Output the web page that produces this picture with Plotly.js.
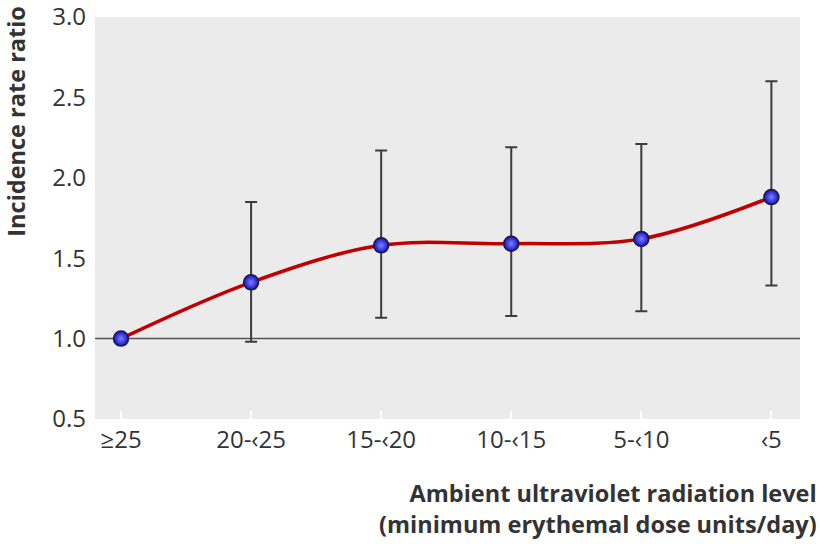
<!DOCTYPE html>
<html>
<head>
<meta charset="utf-8">
<script src="https://cdn.plot.ly/plotly-3.0.1.min.js"></script>
<style>html,body{margin:0;padding:0;background:#fff;}#chart{width:820px;height:544px;}</style>
</head>
<body>
<div id="chart"></div>
<script>
var categories = ["≥25", "20-‹25", "15-‹20", "10-‹15", "5-‹10", "‹5"];
var irr = [1.00, 1.35, 1.58, 1.59, 1.62, 1.88];
var ciUpper = [1.00, 1.85, 2.17, 2.19, 2.21, 2.60];
var ciLower = [1.00, 0.98, 1.13, 1.14, 1.17, 1.33];
var yTicks = [0.5, 1.0, 1.5, 2.0, 2.5, 3.0];
var yTickText = ["0.5", "1.0", "1.5", "2.0", "2.5", "3.0"];
var gridVals = [1.5, 2.0, 2.5];
var refValue = 1.0;

var xIdx = categories.map(function(c, i){ return i; });
var errPlus = irr.map(function(v, i){ return ciUpper[i] - v; });
var errMinus = irr.map(function(v, i){ return v - ciLower[i]; });

var font = "'Open Sans', 'Noto Sans', sans-serif";

var traces = [
  {
    x: xIdx, y: irr, type: 'scatter', mode: 'lines',
    line: {color: '#c00000', width: 3.5, shape: 'spline', smoothing: 1.0},
    hoverinfo: 'skip', showlegend: false
  },
  {
    x: xIdx.slice(1), y: irr.slice(1), type: 'scatter', mode: 'markers',
    marker: {size: 0.1, color: 'rgba(0,0,0,0)'},
    error_y: {type: 'data', symmetric: false, array: errPlus.slice(1), arrayminus: errMinus.slice(1),
              color: '#3c3c3c', thickness: 2, width: 6},
    showlegend: false
  },
  {
    x: xIdx, y: irr, type: 'scatter', mode: 'markers',
    marker: {size: 15, color: '#1010c8', gradient: {type: 'radial', color: '#8080ff'},
             line: {color: '#1a1a40', width: 1.5}},
    showlegend: false
  }
];

var layout = {
  width: 820, height: 544,
  margin: {l: 95, r: 20, t: 17, b: 125},
  paper_bgcolor: '#ffffff', plot_bgcolor: '#ebebeb',
  font: {family: font, color: '#333333'},
  xaxis: {
    range: [-0.2, 5.22], tickmode: 'array', tickvals: xIdx, ticktext: categories,
    showgrid: false, zeroline: false, showline: false,
    ticks: 'inside', ticklen: 8, tickwidth: 2, tickcolor: '#ffffff',
    ticklabelstandoff: 4,
    tickfont: {size: 24, color: '#333333', family: font}
  },
  yaxis: {
    range: [0.5, 3.0], tickmode: 'array', tickvals: yTicks, ticktext: yTickText,
    showgrid: false, zeroline: false, showline: false,
    ticks: '', ticklabelstandoff: 8, ticklabeloverflow: 'allow',
    tickfont: {size: 24, color: '#333333', family: font}
  },
  yaxis2: {
    overlaying: 'y', range: [0.5, 3.0], tickmode: 'array', tickvals: gridVals,
    showgrid: true, gridcolor: '#ffffff', gridwidth: 2.5, zeroline: false, showline: false,
    showticklabels: false, ticks: ''
  },
  shapes: [
    {type: 'line', xref: 'paper', x0: 0, x1: 1, yref: 'y', y0: refValue, y1: refValue,
     line: {color: '#555555', width: 1.5}, layer: 'below'}
  ],
  annotations: [
    {text: '<b>Incidence rate ratio</b>', xref: 'paper', yref: 'paper', x: -0.112, y: 1.032,
     xanchor: 'center', yanchor: 'top', textangle: -90, showarrow: false,
     font: {size: 23.5, color: '#333333', family: font}},
    {text: '<b>Ambient ultraviolet radiation level</b><br><b>(minimum erythemal dose units/day)</b>',
     xref: 'paper', yref: 'paper', x: 1.027, y: -0.14, xanchor: 'right', yanchor: 'top', align: 'right',
     showarrow: false, font: {size: 23.5, color: '#333333', family: font}}
  ]
};

Plotly.newPlot('chart', traces, layout, {displayModeBar: false, staticPlot: true});
</script>
</body>
</html>
